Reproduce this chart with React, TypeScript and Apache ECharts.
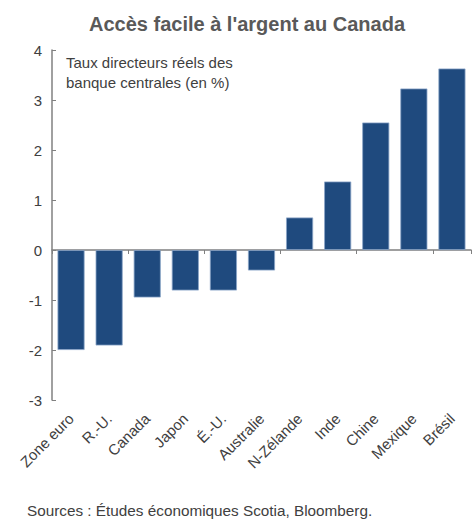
import React, { useEffect, useRef } from "react";
import * as echarts from "echarts";

const categories = ["Zone euro", "R.-U.", "Canada", "Japon", "É.-U.", "Australie", "N-Zélande", "Inde", "Chine", "Mexique", "Brésil"];
const values = [-2.0, -1.91, -0.95, -0.81, -0.81, -0.41, 0.65, 1.37, 2.55, 3.23, 3.63];
const titleText = "Accès facile à l'argent au Canada";
const noteLines = ["Taux directeurs réels des", "banque centrales (en %)"];
const sourceText = "Sources : Études économiques Scotia, Bloomberg.";

const FONT = "'Liberation Sans', Arial, sans-serif";

export default function App() {
  const ref = useRef<HTMLDivElement>(null);
  useEffect(() => {
    if (!ref.current) return;
    const chart = echarts.init(ref.current, null, { renderer: "svg" });
    chart.setOption({
      animation: false,
      backgroundColor: "#ffffff",
      textStyle: { fontFamily: FONT },
      title: {
        text: titleText,
        left: 242,
        top: 9,
        textAlign: "center",
        textStyle: { fontFamily: FONT, fontSize: 20, fontWeight: "bold", color: "#595959" },
      },
      grid: { left: 52, right: 5, top: 50, bottom: 121, containLabel: false },
      graphic: [
        {
          type: "text",
          left: 66,
          top: 52,
          style: {
            text: noteLines.join("\n"),
            fontFamily: FONT,
            fontSize: 15,
            lineHeight: 20,
            fill: "#404040",
          },
        },
        {
          type: "text",
          left: 27,
          top: 503,
          style: { text: sourceText, fontFamily: FONT, fontSize: 15.3, fill: "#404040" },
        },
      ],
      xAxis: [
        {
          type: "category",
          data: categories,
          axisLine: { onZero: true, lineStyle: { color: "#808080", width: 1.5 } },
          axisTick: { show: true, inside: false, length: 4, lineStyle: { color: "#808080" } },
          axisLabel: { show: false },
          splitLine: { show: false },
        },
        {
          type: "category",
          data: categories,
          position: "bottom",
          axisLine: { show: false, onZero: false },
          axisTick: { show: false },
          axisLabel: { rotate: 45, margin: 16, fontSize: 15, color: "#404040", fontFamily: FONT, interval: 0 },
          splitLine: { show: false },
        },
      ],
      yAxis: {
        type: "value",
        min: -3,
        max: 4,
        interval: 1,
        axisLine: { show: true, lineStyle: { color: "#808080", width: 1.5 } },
        axisTick: { show: true, inside: true, length: 4, lineStyle: { color: "#808080" } },
        axisLabel: { fontSize: 15, color: "#404040", margin: 10, fontFamily: FONT },
        splitLine: { show: false },
      },
      series: [
        {
          type: "bar",
          xAxisIndex: 0,
          data: values,
          barCategoryGap: "29%",
          itemStyle: { color: "#1f4a7e", borderColor: "#8aa4c8", borderWidth: 0.8 },
        },
      ],
    });
    return () => chart.dispose();
  }, []);
  return <div ref={ref} style={{ position: "absolute", left: 0, top: 0, width: 476, height: 521 }} />;
}
